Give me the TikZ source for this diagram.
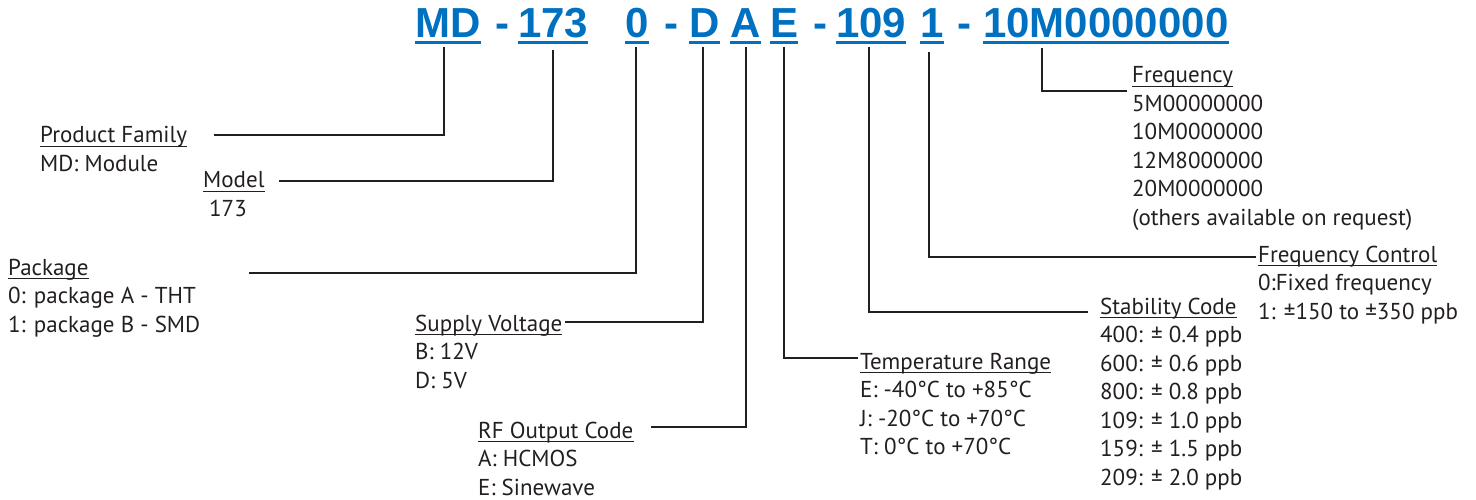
\documentclass[tikz,border=0pt]{standalone}
\usepackage{fontspec}
\setmainfont{PT Sans}
\newfontfamily\codefont{Liberation Sans}
\usetikzlibrary{positioning}
\definecolor{codeblue}{RGB}{0,112,192}
\definecolor{inkblack}{RGB}{35,31,32}
% value list, baseline on its first line
\newcommand{\vals}[1]{\begin{tabular}[t]{@{}l@{}}#1\end{tabular}}

\begin{document}
\begin{tikzpicture}[
    x=1pt, y=-1pt,
    code/.style={anchor=base west, inner sep=0pt, text=codeblue, font=\codefont\bfseries\fontsize{42}{42}\selectfont},
    title/.style={anchor=base west, inner sep=0pt, text=inkblack, font=\fontsize{23}{28.5}\selectfont},
    items/.style={anchor=base west, inner sep=0pt, text=inkblack, font=\fontsize{23}{28.5}\selectfont},
    lead/.style={draw=inkblack, line width=2pt},
    uline/.style={draw=inkblack, line width=1.1pt}
]
\useasboundingbox (0,0) rectangle (1476,500);

% part number
\node[code] (hMD) at (415,38) {MD};
\node[code] (s1) at (495,38) {-};
\node[code] (h173) at (518,38) {173\hspace{15pt}};
\node[code] (h0) at (625,38) {0};
\node[code] (s2) at (664,38) {-};
\node[code] (hD) at (689,38) {D};
\node[code] (hA) at (730,38) {A};
\node[code] (hE) at (770,38) {E};
\node[code] (s3) at (813,38) {-};
\node[code] (h109) at (836,38) {109};
\node[code] (h1) at (920,38) {1};
\node[code] (s4) at (957,38) {-};
\node[code] (hF) at (983,38) {10M0000000};

\foreach \n in {hMD,h173,h0,hD,hA,hE,h109,h1,hF}
    \fill[codeblue] ([yshift=-3pt]\n.base west) rectangle ([yshift=-6pt]\n.base east);

% field titles
\node[title] (pf) at (40,143) {Product Family};
\node[title] (md) at (203,188) {Model};
\node[title] (pk) at (8,275) {Package};
\node[title] (sv) at (415,331) {Supply Voltage};
\node[title] (rf) at (478,438) {RF Output Code};
\node[title] (tr) at (860,369) {Temperature Range};
\node[title] (sc) at (1100,314) {Stability Code};
\node[title] (fc) at (1258,262) {Frequency Control};
\node[title] (fr) at (1132,83) {Frequency};

\foreach \n in {pf,md,pk,sv,rf,tr,sc,fc,fr}
    \draw[uline] ([yshift=-3.5pt]\n.base west) -- ([yshift=-3.5pt]\n.base east);

% field values
\node[items] (pfv) at ([yshift=-28.5pt]pf.base west) {\vals{MD: Module}};
\node[items] (mdv) at ([xshift=6pt,yshift=-28.5pt]md.base west) {\vals{173}};
\node[items] (pkv) at ([yshift=-28.5pt]pk.base west) {\vals{0: package A - THT\\1: package B - SMD}};
\node[items] (svv) at ([yshift=-28.5pt]sv.base west) {\vals{B: 12V\\D: 5V}};
\node[items] (rfv) at ([yshift=-28.5pt]rf.base west) {\vals{A: HCMOS\\E: Sinewave}};
\node[items] (trv) at ([yshift=-28.5pt]tr.base west) {\vals{E: -40°C to +85°C\\J: -20°C to +70°C\\T: 0°C to +70°C}};
\node[items] (scv) at ([yshift=-28.5pt]sc.base west) {\vals{400: ± 0.4 ppb\\600: ± 0.6 ppb\\800: ± 0.8 ppb\\109: ± 1.0 ppb\\159: ± 1.5 ppb\\209: ± 2.0 ppb}};
\node[items] (fcv) at ([yshift=-28.5pt]fc.base west) {\vals{0:Fixed frequency\\1: ±150 to ±350 ppb}};
\node[items] (frv) at ([yshift=-28.5pt]fr.base west) {\vals{5M00000000\\10M0000000\\12M8000000\\20M0000000\\(others available on request)}};

% leader lines
\draw[lead] (hMD.base) ++(-4,9) |- ([xshift=27pt,yshift=8pt]pf.base east);
\draw[lead] (h173.base) ++(0,12) |- ([xshift=14pt,yshift=7pt]md.base east);
\draw[lead] (h0.base) ++(-1,9) |- ([xshift=160pt,yshift=2pt]pk.base east);
\draw[lead] (hD.base) ++(-1,9) |- ([xshift=3pt,yshift=9pt]sv.base east);
\draw[lead] (hA.base) ++(1,9) |- ([xshift=17pt,yshift=11pt]rf.base east);
\draw[lead] (hE.base) ++(0,9) |- ([xshift=-2pt,yshift=11pt]tr.base west);
\draw[lead] (h109.base) ++(-2,9) |- ([xshift=-12pt,yshift=2pt]sc.base west);
\draw[lead] (h1.base) ++(-3,14) |- ([xshift=-2pt,yshift=5pt]fc.base west);
\draw[lead] (hF.base west) ++(59,10) |- ([xshift=-5pt,yshift=-8pt]fr.base west);

\end{tikzpicture}
\end{document}
